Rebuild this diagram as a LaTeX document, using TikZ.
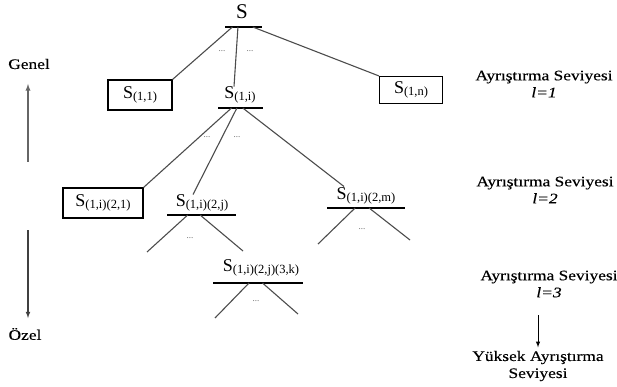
\documentclass[tikz,border=0pt]{standalone}
\usepackage{fontspec}
\setmainfont{Liberation Serif}
\newfontfamily\yanfont[FakeStretch=1.2,FakeBold=0.25]{Liberation Serif}
\usetikzlibrary{calc}
\newcommand{\Salt}[1]{S{\fontsize{12.5}{13}\selectfont\raisebox{-0.35ex}{#1}}}

\begin{document}
\begin{tikzpicture}[x=1pt,y=-1pt,
    kutu/.style={draw,line width=1.1pt,inner sep=2pt,font=\fontsize{18}{20}\selectfont},
    dugum/.style={inner sep=1pt,font=\fontsize{18}{20}\selectfont},
    dal/.style={line width=1.1pt,draw=black!70},
    cizgi/.style={line width=1.6pt},
    nokta/.style={font=\fontsize{9}{10}\selectfont,text=black!60},
    seviye/.style={align=center,font=\yanfont\fontsize{14.5}{17}\selectfont}]

    \useasboundingbox (0,0) rectangle (617,387);

    % kok
    \node[dugum,font=\fontsize{21}{23}\selectfont] (s) at (242,12) {S};
    \coordinate (sa) at (225,27);
    \coordinate (sb) at (262,27);
    \draw[cizgi] (sa) -- (sb);

    % seviye 1
    \node[kutu,minimum width=64,minimum height=30] (s11) at (140,95) {\Salt{(1,1)}};
    \node[dugum] (s1i) at (240,95) {\Salt{(1,i)}};
    \node[kutu,minimum width=63,minimum height=27] (s1n) at (411,90) {\Salt{(1,n)}};
    \coordinate (s1ia) at (218,108);
    \coordinate (s1ib) at (263,108);
    \draw[cizgi] (s1ia) -- (s1ib);

    \draw[dal] ($(sa)!0.2!(sb)$) -- (s11.north east);
    \draw[dal] ($(sa)!0.35!(sb)$) -- ($(s1i.north)+(-6,1)$);
    \draw[dal] ($(sa)!0.75!(sb)$) -- (s1n.north west);
    \node[nokta] (n1) at (222,51) {...};
    \node[nokta] (n2) at (250,51) {...};

    % seviye 2
    \node[kutu,minimum width=80,minimum height=30] (s21) at (103,203) {\Salt{(1,i)(2,1)}};
    \node[dugum] (s2j) at (202,203) {\Salt{(1,i)(2,j)}};
    \node[dugum] (s2m) at (366,196) {\Salt{(1,i)(2,m)}};
    \coordinate (s2ja) at (167,215);
    \coordinate (s2jb) at (236,215);
    \draw[cizgi] (s2ja) -- (s2jb);
    \coordinate (s2ma) at (327,208);
    \coordinate (s2mb) at (405,208);
    \draw[cizgi] (s2ma) -- (s2mb);

    \draw[dal] ($(s1ia)!0.3!(s1ib)$) -- (s21.north east);
    \draw[dal] ($(s1ia)!0.42!(s1ib)$) -- ($(s2j.north)+(-9,1)$);
    \draw[dal] ($(s1ia)!0.55!(s1ib)$) -- ($(s2m.north)+(-22,0)$);
    \node[nokta] (n3) at (207,137) {...};
    \node[nokta] (n4) at (237,137) {...};

    % alt dallar
    \coordinate (d1) at (147,252);
    \coordinate (d2) at (243,251);
    \draw[dal] ($(s2ja)!0.3!(s2jb)$) -- (d1);
    \draw[dal] ($(s2ja)!0.48!(s2jb)$) -- (d2);
    \node[nokta] (n5) at (190,238) {...};
    \coordinate (d3) at (318,244);
    \coordinate (d4) at (410,240);
    \draw[dal] ($(s2ma)!0.36!(s2mb)$) -- (d3);
    \draw[dal] ($(s2ma)!0.54!(s2mb)$) -- (d4);
    \node[nokta] (n6) at (362,229) {...};

    % seviye 3
    \node[dugum] (s3k) at (261,268) {\Salt{(1,i)(2,j)(3,k)}};
    \coordinate (s3ka) at (213,283);
    \coordinate (s3kb) at (303,283);
    \draw[cizgi] (s3ka) -- (s3kb);
    \coordinate (d5) at (215,318);
    \coordinate (d6) at (298,314);
    \draw[dal] ($(s3ka)!0.4!(s3kb)$) -- (d5);
    \draw[dal] ($(s3ka)!0.55!(s3kb)$) -- (d6);
    \node[nokta] (n7) at (256,301) {...};

    % sol taraf
    \node[seviye] (genel) at (29,64) {Genel};
    \node[seviye] (ozel) at (25,334) {Özel};
    \coordinate (ok1) at (28,162);
    \coordinate (ok2) at (28,230);
    \draw[-latex,line width=1.3pt,black!60] (ok1) -- (28,84);
    \draw[-latex,line width=1.1pt,black!75] (ok2) -- (28,318);

    % sag taraf
    \node[seviye] (sv1) at (544,84) {Ayrıştırma Seviyesi\\\textit{l=1}};
    \node[seviye] (sv2) at (545,190) {Ayrıştırma Seviyesi\\\textit{l=2}};
    \node[seviye] (sv3) at (549,284) {Ayrıştırma Seviyesi\\\textit{l=3}};
    \node[seviye] (yuk) at (538,366) {Yüksek Ayrıştırma\\Seviyesi};
    \draw[-latex,line width=1pt] (538,315) -- (yuk.north);
\end{tikzpicture}
\end{document}
